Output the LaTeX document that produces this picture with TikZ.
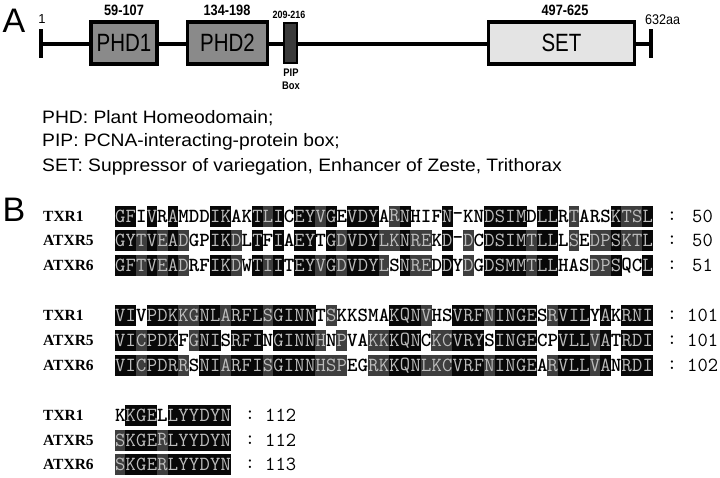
\documentclass[tikz,border=0pt]{standalone}
\usepackage{fontspec}
\setmainfont{Liberation Sans}
\newfontfamily\tnr{Liberation Serif}
\definecolor{shB}{HTML}{080808}
\definecolor{shG}{HTML}{3E3E3E}
\definecolor{shT}{HTML}{BDBDBD}
\definecolor{phdfill}{HTML}{8A8A8A}
\definecolor{pipfill}{HTML}{3A3A3A}
\definecolor{setfill}{HTML}{E4E4E4}
\newcommand\seqfont{\fontsize{20}{20}\ttfamily\selectfont}
\newcommand\numfont{\fontsize{20}{20}\ttfamily\selectfont}
\tikzset{
  seqcell/.style={minimum width=10.8pt, minimum height=21pt, inner sep=0pt, outer sep=0pt, font=\seqfont},
  cellb/.style={fill=shB, text=shT},
  cellg/.style={fill=shG, text=shT},
  cellw/.style={text=black, font=\seqfont\bfseries},
  seqlbl/.style={anchor=west, inner sep=0pt, font=\fontsize{15.5}{16}\tnr\bfseries\selectfont},
  numtxt/.style={inner sep=0pt, font=\numfont},
  dombox/.style={draw=black, line width=3.5pt, inner sep=0pt},
  domtxt/.style={font=\fontsize{25}{25}\selectfont, xscale=0.82},
  rangetxt/.style={inner sep=0pt, font=\fontsize{15}{15}\bfseries\selectfont, xscale=0.85},
  legtxt/.style={anchor=west, inner sep=0pt, font=\fontsize{18}{18}\selectfont, xscale=1.07},
  paneltxt/.style={inner sep=0pt, font=\fontsize{34}{34}\selectfont},
  bar/.style={line width=3.5pt}
}
\ExplSyntaxOn
\NewDocumentCommand \seqrow { m m m m m }
 {
  \int_step_inline:nn { \tl_count:n {#4} }
   {
    \use:x
     {
      \exp_not:N \node [ seqcell , cell \tl_item:nn {#5} {##1} ]
        ( #1 - ##1 )
        at ( \fp_eval:n { #2 + (##1 - 0.5) * 10.55 } , #3 ) { \tl_item:nn {#4} {##1} } ;
     }
   }
 }
\ExplSyntaxOff
\begin{document}
\begin{tikzpicture}[x=1pt,y=-1pt]
\useasboundingbox (0,0) rectangle (720,477);
\fill[white] (0,0) rectangle (720,477);

% ---------- Panel A ----------
\node[paneltxt] (pA) at (14,21) {A};
\coordinate (L) at (41,44);
\coordinate (R) at (651,44);
\coordinate (Lt) at (41,29);
\coordinate (Lb) at (41,58);
\coordinate (Rt) at (651,29);
\coordinate (Rb) at (651,58);
\draw[bar] (L) -- (R);
\draw[bar] (Lt) -- (Lb);
\draw[bar] (Rt) -- (Rb);
\node[dombox, fill=phdfill, minimum width=66pt, minimum height=42pt] (phd1) at (124,43) {};
\node[domtxt] (phd1t) at (phd1) {PHD1};
\node[dombox, fill=phdfill, minimum width=80pt, minimum height=42pt] (phd2) at (227.5,43) {};
\node[domtxt] (phd2t) at (phd2) {PHD2};
\node[dombox, line width=2pt, fill=pipfill, minimum width=13pt, minimum height=40pt] (pip) at (290,43) {};
\node[dombox, fill=setfill, minimum width=146pt, minimum height=42pt] (set) at (561.5,43) {};
\node[domtxt] (sett) at (set) {SET};
\node[inner sep=0pt, font=\fontsize{13}{13}\selectfont] (one) at (42,19) {1};
\node[rangetxt] (r1) at (124,10) {59-107};
\node[rangetxt] (r2) at (227,10) {134-198};
\node[rangetxt, font=\fontsize{10.5}{10.5}\bfseries\selectfont] (r3) at (289,15) {209-216};
\node[rangetxt] (r4) at (565,10) {497-625};
\node[anchor=west, inner sep=0pt, font=\fontsize{14}{14}\selectfont, xscale=0.9] (end) at (645,20) {632aa};
\node[inner sep=0pt, font=\fontsize{11}{11}\bfseries\selectfont, xscale=0.85] (pipa) at (291,73) {PIP};
\node[inner sep=0pt, font=\fontsize{11}{11}\bfseries\selectfont, xscale=0.85] (pipb) at (291,86) {Box};

\node[legtxt] (leg1) at (42,118) {PHD: Plant Homeodomain;};
\node[legtxt] (leg2) at (42,142) {PIP: PCNA-interacting-protein box;};
\node[legtxt] (leg3) at (42,167) {SET: Suppressor of variegation, Enhancer of Zeste, Trithorax};

% ---------- Panel B ----------
\node[paneltxt] (pB) at (14,210) {B};

% block 1
\node[seqlbl] (l1a) at (43,216) {TXR1};
\node[seqlbl] (l1b) at (43,240.5) {ATXR5};
\node[seqlbl] (l1c) at (43,265.5) {ATXR6};
\seqrow{a1}{115}{216}{GFIVRAMDDIKAKTLICEYVGEVDYARNHIFN-KNDSIMDLLRTARSKTSL}{bbwbwbwwwbbwwbgbwbbgbwbbbwgbwwwbwwwbbbbwbbwgwwwbggb}
\seqrow{a2}{115}{240.5}{GYTVEADGPIKDLTFIAEYTGDVDYLKNREKD-DCDSIMTLLLSEDPSKTL}{bbgbgbgwwbbgwbwbwbbwbgbbbggbggwbwgwbbbbgbbwgwggbggb}
\seqrow{a3}{115}{265.5}{GFTVEADRFIKDWTIITEYVGDVDYLSNREDDYDGDSMMTLLHASDPSQCL}{bbgbgbgwwbbgwbgbwbbgbgbbbgwbggwbwgwbbbbgbbwwwggbwwb}
\node[numtxt] (c1a) at (672,216) {:};
\node[numtxt] (c1b) at (672,240.5) {:};
\node[numtxt] (c1c) at (672,265.5) {:};
\node[numtxt, anchor=west] (n1a) at (692,216) {50};
\node[numtxt, anchor=west] (n1b) at (692,240.5) {50};
\node[numtxt, anchor=west] (n1c) at (692,265.5) {51};

% block 2
\node[seqlbl] (l2a) at (43,315.5) {TXR1};
\node[seqlbl] (l2b) at (43,340.5) {ATXR5};
\node[seqlbl] (l2c) at (43,365.5) {ATXR6};
\seqrow{b1}{115}{315.5}{VIVPDKKGNLARFLSGINNTSKKSMAKQNVHSVRFNINGESRVILYAKRNI}{bbwbbbggbbgbbbgbbbbwgwwwwwbbbgwwbbbgbbbbwgbbbwbwbbb}
\seqrow{b2}{115}{340.5}{VICPDKFGNISRFINGINNHNPVAKKKQNCKCVRYSINGECPVLLVATRDI}{bbgbbbwgbbwbbbwbbbbgwgwwggbbbwggbbbwbbbbwwbbbgbwbbb}
\seqrow{b3}{115}{365.5}{VICPDRRSNIARFISGINNHSPEGRKKQNLKCVRFNINGEARVLLVANRDI}{bbgbbbgwbbgbbbgbbbbgggwwggbbbgggbbbgbbbbwgbbbgbwbbb}
\node[numtxt] (c2a) at (672,315.5) {:};
\node[numtxt] (c2b) at (672,340.5) {:};
\node[numtxt] (c2c) at (672,365.5) {:};
\node[numtxt, anchor=west] (n2a) at (687,315.5) {101};
\node[numtxt, anchor=west] (n2b) at (687,340.5) {101};
\node[numtxt, anchor=west] (n2c) at (687,365.5) {102};

% block 3
\node[seqlbl] (l3a) at (43,415) {TXR1};
\node[seqlbl] (l3b) at (43,440) {ATXR5};
\node[seqlbl] (l3c) at (43,464.5) {ATXR6};
\seqrow{c1}{115}{415}{KKGELLYYDYN}{wbbbwbbbbbb}
\seqrow{c2}{115}{440}{SKGERLYYDYN}{gbbbgbbbbbb}
\seqrow{c3}{115}{464.5}{SKGERLYYDYN}{gbbbgbbbbbb}
\node[numtxt] (c3a) at (250,415) {:};
\node[numtxt] (c3b) at (250,440) {:};
\node[numtxt] (c3c) at (250,464.5) {:};
\node[numtxt, anchor=west] (n3a) at (265,415) {112};
\node[numtxt, anchor=west] (n3b) at (265,440) {112};
\node[numtxt, anchor=west] (n3c) at (265,464.5) {113};
\end{tikzpicture}
\end{document}
